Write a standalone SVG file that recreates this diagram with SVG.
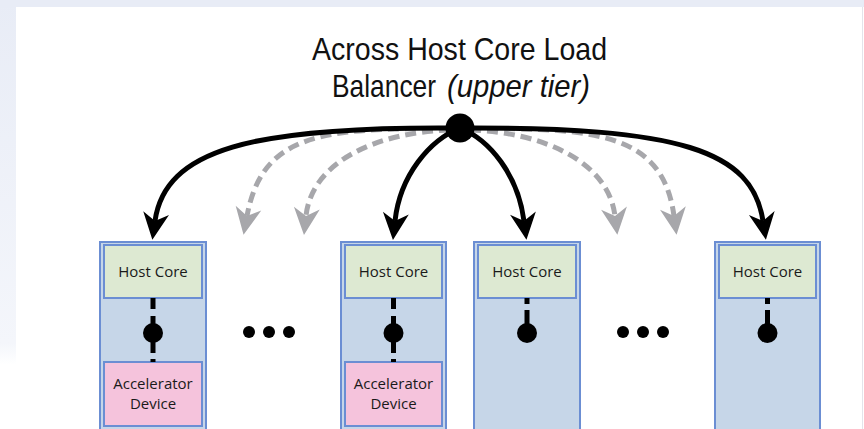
<svg xmlns="http://www.w3.org/2000/svg" width="864" height="429" viewBox="0 0 864 429">
  <defs>
    <linearGradient id="edgeFade" x1="0" y1="0" x2="0" y2="1">
      <stop offset="0" stop-color="#e8ecf6"/>
      <stop offset="0.8" stop-color="#f4f6fb"/>
      <stop offset="0.85" stop-color="#ffffff"/>
    </linearGradient>
    <marker id="headBlack" markerUnits="userSpaceOnUse" markerWidth="32" markerHeight="32" viewBox="-11 -16 32 32" refX="0" refY="0" orient="auto">
      <path d="M19,0 L-8,-13 L0,0 L-8,13 Z" fill="#000"/>
    </marker>
    <marker id="headGray" markerUnits="userSpaceOnUse" markerWidth="32" markerHeight="32" viewBox="-11 -16 32 32" refX="0" refY="0" orient="auto">
      <path d="M19,0 L-8,-13 L0,0 L-8,13 Z" fill="#a7a7ab"/>
    </marker>
  </defs>
  <style>
    .title { font-family: "Liberation Sans", "Open Sans", sans-serif; font-size: 32px; fill: #111; }
    .lbl { font-family: "Open Sans", "Liberation Sans", sans-serif; font-size: 15px; fill: #1a1a1a; text-anchor: middle; }
    .node { fill: #c6d6e8; stroke: #6b8ed3; stroke-width: 2; }
    .core { fill: #dde9d2; stroke: #6b8ed3; stroke-width: 2; }
    .accel { fill: #f5c3dc; stroke: #6b8ed3; stroke-width: 2; }
    .solid { fill: none; stroke: #000; stroke-width: 5; marker-end: url(#headBlack); }
    .dashed { fill: none; stroke: #a7a7ab; stroke-width: 5; stroke-dasharray: 11 6; marker-end: url(#headGray); }
    .link { stroke: #000; stroke-width: 5; }
  </style>

  <!-- page backdrop -->
  <rect x="0" y="0" width="864" height="429" fill="#ffffff"/>
  <rect x="0" y="0" width="864" height="7" fill="#e8ecf6"/>
  <rect x="0" y="0" width="16" height="429" fill="url(#edgeFade)"/>
  <rect x="0" y="0" width="16" height="7" fill="#e8ecf6"/>
  <line x1="862.5" y1="7" x2="862.5" y2="429" stroke="#e4e4ea" stroke-width="1"/>

  <!-- heading -->
  <g id="title">
    <text class="title" x="312" y="60" textLength="295" lengthAdjust="spacingAndGlyphs">Across Host Core Load</text>
    <text class="title" x="332" y="97" textLength="104" lengthAdjust="spacingAndGlyphs">Balancer</text>
    <text class="title" x="447" y="97" textLength="143" lengthAdjust="spacingAndGlyphs" font-style="italic">(upper tier)</text>
  </g>

  <!-- compute nodes -->
  <g id="node1">
    <rect class="node" x="100" y="242" width="106" height="200"/>
    <rect class="core" x="104" y="245" width="98" height="53"/>
    <text class="lbl" x="153" y="277">Host Core</text>
    <rect class="accel" x="104" y="362" width="98" height="64"/>
    <text class="lbl" x="153" y="389">Accelerator</text>
    <text class="lbl" x="153" y="409">Device</text>
  </g>
  <g id="node2">
    <rect class="node" x="341" y="242" width="105" height="200"/>
    <rect class="core" x="345" y="245" width="97" height="53"/>
    <text class="lbl" x="393.5" y="277">Host Core</text>
    <rect class="accel" x="345" y="362" width="97" height="64"/>
    <text class="lbl" x="393.5" y="389">Accelerator</text>
    <text class="lbl" x="393.5" y="409">Device</text>
  </g>
  <g id="node3">
    <rect class="node" x="474" y="242" width="106" height="200"/>
    <rect class="core" x="478" y="245" width="98" height="53"/>
    <text class="lbl" x="527" y="277">Host Core</text>
  </g>
  <g id="node4">
    <rect class="node" x="715" y="242" width="105" height="200"/>
    <rect class="core" x="719" y="245" width="97" height="53"/>
    <text class="lbl" x="767.5" y="277">Host Core</text>
  </g>

  <!-- ellipses between nodes -->
  <g id="ellipsis-left" fill="#000">
    <circle cx="249" cy="332" r="6"/>
    <circle cx="269" cy="332" r="6"/>
    <circle cx="289" cy="332" r="6"/>
  </g>
  <g id="ellipsis-right" fill="#000">
    <circle cx="623" cy="332" r="6"/>
    <circle cx="643" cy="332" r="6"/>
    <circle cx="663" cy="332" r="6"/>
  </g>

  <!-- connectors -->
  <g id="connectors">
    <!-- inactive (dashed) assignments -->
    <path class="dashed" d="M450 129 C 320 127, 262 135, 247 216"/>
    <path class="dashed" d="M450 130 C 380 132, 312 160, 306 216"/>
    <path class="dashed" d="M470 130 C 540 132, 608 160, 615 216"/>
    <path class="dashed" d="M470 129 C 600 127, 663 135, 674 216"/>
    <!-- active assignments -->
    <path class="solid" d="M460 128 C 250 126, 165 150, 155 221"/>
    <path class="solid" d="M460 128 C 430 140, 400 175, 395 221"/>
    <path class="solid" d="M460 128 C 490 140, 518 175, 524 221"/>
    <path class="solid" d="M460 128 C 680 127, 752 150, 763 221"/>
    <circle cx="460" cy="128" r="14.5" fill="#000"/>

    <!-- host core to accelerator links -->
    <line class="link" x1="153" y1="298" x2="153" y2="309"/>
    <line class="link" x1="153" y1="316" x2="153" y2="353"/>
    <line class="link" x1="153" y1="359" x2="153" y2="362"/>
    <circle cx="153" cy="333" r="10" fill="#000"/>

    <line class="link" x1="393.5" y1="298" x2="393.5" y2="309"/>
    <line class="link" x1="393.5" y1="316" x2="393.5" y2="353"/>
    <line class="link" x1="393.5" y1="359" x2="393.5" y2="362"/>
    <circle cx="393.5" cy="333" r="10" fill="#000"/>

    <line class="link" x1="527" y1="298" x2="527" y2="304"/>
    <line class="link" x1="527" y1="310" x2="527" y2="333"/>
    <circle cx="527" cy="333" r="10" fill="#000"/>

    <line class="link" x1="767.5" y1="298" x2="767.5" y2="304"/>
    <line class="link" x1="767.5" y1="310" x2="767.5" y2="333"/>
    <circle cx="767.5" cy="333" r="10" fill="#000"/>
  </g>
</svg>
